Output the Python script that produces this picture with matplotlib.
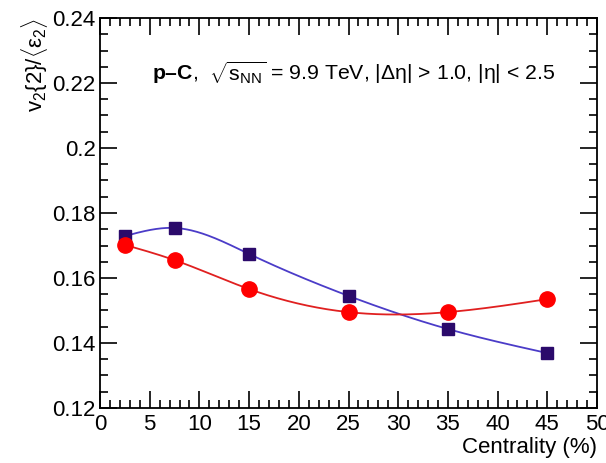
import numpy as np
import matplotlib
matplotlib.use('Agg')
import matplotlib.pyplot as plt
from matplotlib.ticker import MultipleLocator

plt.rcParams['font.family'] = ['Liberation Sans', 'DejaVu Sans']
plt.rcParams['mathtext.fontset'] = 'custom'
plt.rcParams['mathtext.rm'] = 'Liberation Sans'
plt.rcParams['mathtext.it'] = 'Liberation Sans:italic'
plt.rcParams['mathtext.bf'] = 'Liberation Sans:bold'

# data
centrality = [2.5, 7.5, 15, 25, 35, 45]
v2_blue = [0.1729, 0.1754, 0.1674, 0.1545, 0.1443, 0.1369]
v2_red = [0.1702, 0.1655, 0.1566, 0.1495, 0.1495, 0.1535]


def spline(x, y, n=300):
    # natural cubic spline, drawn through the points
    x = np.asarray(x, float); y = np.asarray(y, float)
    k = len(x); h = np.diff(x)
    A = np.zeros((k, k)); b = np.zeros(k)
    A[0, 0] = A[-1, -1] = 1
    for i in range(1, k - 1):
        A[i, i - 1] = h[i - 1]; A[i, i] = 2 * (h[i - 1] + h[i]); A[i, i + 1] = h[i]
        b[i] = 3 * ((y[i + 1] - y[i]) / h[i] - (y[i] - y[i - 1]) / h[i - 1])
    c = np.linalg.solve(A, b)
    xs = np.linspace(x[0], x[-1], n); ys = np.empty(n)
    for j, t in enumerate(xs):
        i = min(np.searchsorted(x, t, side='right') - 1, k - 2)
        d = t - x[i]
        bi = (y[i + 1] - y[i]) / h[i] - h[i] * (c[i + 1] + 2 * c[i]) / 3
        di = (c[i + 1] - c[i]) / (3 * h[i])
        ys[j] = y[i] + bi * d + c[i] * d ** 2 + di * d ** 3
    return xs, ys


fig = plt.figure(figsize=(6.06, 4.63), dpi=100)
ax = fig.add_axes([100 / 606, 55 / 463, 497 / 606, 390 / 463])

xs, ys = spline(centrality, v2_blue)
ax.plot(xs, ys, color='#4b3cc8', lw=1.3)
ax.plot(centrality, v2_blue, 's', color='#2b0a6b', ms=9)
xs, ys = spline(centrality, v2_red)
ax.plot(xs, ys, color='#e02020', lw=1.3)
ax.plot(centrality, v2_red, 'o', color='#ff0000', ms=11)

ax.set_xlim(0, 50)
ax.set_ylim(0.12, 0.24)
ax.xaxis.set_major_locator(MultipleLocator(5))
ax.xaxis.set_minor_locator(MultipleLocator(1))
ax.yaxis.set_minor_locator(MultipleLocator(0.005))
ax.set_yticks([0.12, 0.14, 0.16, 0.18, 0.2, 0.22, 0.24])
ax.set_yticklabels(['0.12', '0.14', '0.16', '0.18', '0.2', '0.22', '0.24'])
ax.tick_params(which='both', direction='in', top=True, right=True, labelsize=16, width=1.2)
ax.tick_params(which='major', length=12)
ax.tick_params(which='minor', length=6)
ax.tick_params(axis='x', pad=4)
ax.tick_params(axis='y', pad=3)
for s in ax.spines.values():
    s.set_linewidth(1.3)

ax.set_xlabel('Centrality (%)', loc='right', fontsize=16, labelpad=2)
ax.set_ylabel(r'v$_2${2}/$\langle$ε$_2\rangle$', loc='top', fontsize=16, labelpad=2)

ax.text(0.105, 0.84, r'$\mathbf{p}$$\mathbf{–C}$,  $\sqrt{\mathrm{s}_{\rm NN}}$ = 9.9 TeV, |Δη| > 1.0, |η| < 2.5',
        transform=ax.transAxes, fontsize=15.3)

fig.savefig('out.png', dpi=100)
